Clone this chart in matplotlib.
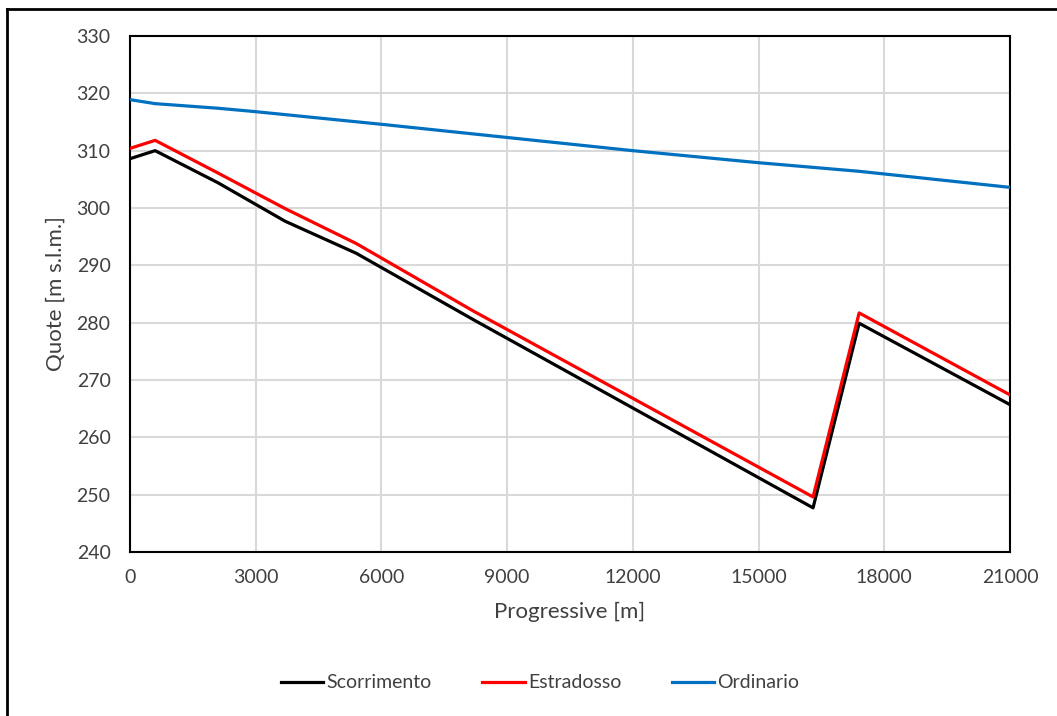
import matplotlib
matplotlib.use("Agg")
import matplotlib.pyplot as plt
from matplotlib.lines import Line2D

plt.rcParams['font.family'] = ['Lato', 'DejaVu Sans']

# progressive distances [m]
x_scorr = [0, 600, 2100, 3700, 5400, 8200, 16300, 17400, 21000]
y_scorr = [308.6, 310.0, 304.4, 297.7, 292.1, 280.5, 247.7, 279.9, 265.7]
x_estr = [0, 600, 2100, 3700, 5400, 8200, 16300, 17400, 21000]
y_estr = [310.4, 311.8, 306.1, 299.9, 293.8, 282.0, 249.6, 281.7, 267.4]
x_ord = [0, 600, 2100, 3000, 6000, 9000, 12000, 15000, 17400, 21000]
y_ord = [318.9, 318.2, 317.4, 316.8, 314.6, 312.3, 310.0, 307.9, 306.4, 303.6]

x_ticks = [0, 3000, 6000, 9000, 12000, 15000, 18000, 21000]
y_ticks = [240, 250, 260, 270, 280, 290, 300, 310, 320, 330]

fig = plt.figure(figsize=(10.57, 7.16), dpi=100)
ax = fig.add_axes([130/1057, 1 - 552/716, 880/1057, 516/716])

ax.plot(x_scorr, y_scorr, color='black', lw=2.3, label='Scorrimento', zorder=3)
ax.plot(x_estr, y_estr, color='#ff0000', lw=2.3, label='Estradosso', zorder=3)
ax.plot(x_ord, y_ord, color='#0070c0', lw=2.3, label='Ordinario', zorder=3)

ax.set_xlim(0, 21000)
ax.set_ylim(240, 330)
ax.set_xticks(x_ticks)
ax.set_yticks(y_ticks)
ax.grid(True, color='#d9d9d9', lw=1.5)
ax.set_axisbelow(True)
ax.tick_params(length=0, labelsize=14, colors='#404040')
ax.tick_params(axis='y', pad=14)
ax.tick_params(axis='x', pad=12)
for s in ax.spines.values():
    s.set_color('black')
    s.set_linewidth(1.5)

ax.set_xlabel('Progressive [m]', fontsize=16, color='#404040', labelpad=12)
ax.set_ylabel('Quote [m s.l.m.]', fontsize=16, color='#404040', labelpad=8)

leg = fig.legend(loc='center', bbox_to_anchor=(540/1057, 1 - 683/716), ncol=3,
                 frameon=False, fontsize=14, handlelength=2.2, handletextpad=0.15,
                 columnspacing=2.6)
for t in leg.get_texts():
    t.set_color('#404040')

# outer chart frame (only left and top edges visible)
fig.add_artist(Line2D([7/1057, 7/1057], [0, 1 - 9/716], transform=fig.transFigure, color='black', lw=2))
fig.add_artist(Line2D([7/1057, 1], [1 - 9/716, 1 - 9/716], transform=fig.transFigure, color='black', lw=2))

fig.savefig('out.png', dpi=100)
